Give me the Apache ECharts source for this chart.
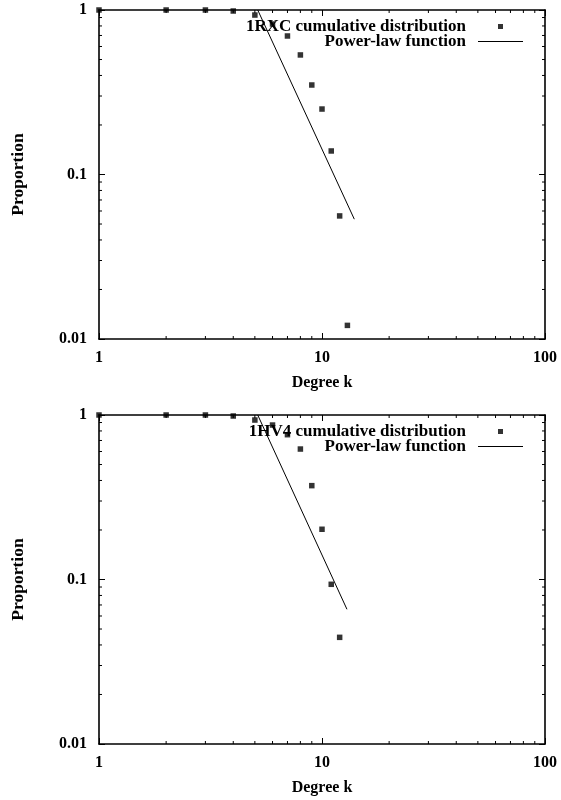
<!DOCTYPE html>
<html>
<head>
<meta charset="utf-8">
<script src="https://cdn.jsdelivr.net/npm/echarts@6/dist/echarts.min.js"></script>
<style>
html,body{margin:0;padding:0;background:#fff;}
#chart{width:561px;height:800px;}
</style>
</head>
<body>
<div id="chart"></div>
<script>
// ---- data ----
var degreesTop = [1, 2, 3, 4, 5, 6, 7, 8, 9, 10, 11, 12, 13];
var proportionTop = [1, 1, 1, 0.986, 0.932, 0.822, 0.695, 0.533, 0.350, 0.250, 0.139, 0.056, 0.0121];
var powerLawTopK = [5.15, 13.96];
var powerLawTopP = [1, 0.0535];

var degreesBottom = [1, 2, 3, 4, 5, 6, 7, 8, 9, 10, 11, 12];
var proportionBottom = [1, 1, 1, 0.986, 0.932, 0.869, 0.759, 0.621, 0.372, 0.202, 0.0935, 0.0445];
var powerLawBottomK = [5.15, 12.94];
var powerLawBottomP = [1, 0.0659];

var nameTop = '1RXC cumulative distribution';
var nameBottom = '1HV4 cumulative distribution';
var nameFit = 'Power-law function';

var xMin = 1, xMax = 100, yMin = 0.01, yMax = 1;
var xMinorTicks = [2, 3, 4, 5, 6, 7, 8, 9, 20, 30, 40, 50, 60, 70, 80, 90];
var yMinorTicks = [0.02, 0.03, 0.04, 0.05, 0.06, 0.07, 0.08, 0.09, 0.2, 0.3, 0.4, 0.5, 0.6, 0.7, 0.8, 0.9];

// ---- helpers ----
var FONT = 'Liberation Serif';
function zip(a, b) { return a.map(function (v, i) { return [v, b[i]]; }); }

var lineStyle = { color: '#000', width: 1.6 };
var tickLabel = { color: '#000', fontFamily: FONT, fontWeight: 'bold', fontSize: 16 };

function xAxisPair(gridIndex) {
  return [
    { type: 'log', logBase: 10, min: xMin, max: xMax, gridIndex: gridIndex, position: 'bottom',
      axisLine: { show: true, lineStyle: lineStyle },
      axisTick: { show: true, inside: true, length: 6, lineStyle: { color: '#000', width: 1 } },
      axisLabel: Object.assign({ margin: 11 }, tickLabel),
      splitLine: { show: false },
      name: 'Degree k', nameLocation: 'middle', nameGap: 36,
      nameTextStyle: { color: '#000', fontFamily: FONT, fontWeight: 'bold', fontSize: 16 } },
    { type: 'log', logBase: 10, min: xMin, max: xMax, gridIndex: gridIndex, position: 'top',
      axisLine: { show: true, lineStyle: lineStyle },
      axisTick: { show: true, inside: true, length: 6, lineStyle: { color: '#000', width: 1 } },
      axisLabel: { show: false }, splitLine: { show: false } }
  ];
}
function yAxisPair(gridIndex) {
  return [
    { type: 'log', logBase: 10, min: yMin, max: yMax, gridIndex: gridIndex, position: 'left',
      axisLine: { show: true, lineStyle: lineStyle },
      axisTick: { show: true, inside: true, length: 6, lineStyle: { color: '#000', width: 1 } },
      axisLabel: Object.assign({ margin: 12 }, tickLabel),
      splitLine: { show: false },
      name: 'Proportion', nameLocation: 'middle', nameGap: 72,
      nameTextStyle: { color: '#000', fontFamily: FONT, fontWeight: 'bold', fontSize: 17.5 } },
    { type: 'log', logBase: 10, min: yMin, max: yMax, gridIndex: gridIndex, position: 'right',
      axisLine: { show: true, lineStyle: lineStyle },
      axisTick: { show: true, inside: true, length: 6, lineStyle: { color: '#000', width: 1 } },
      axisLabel: { show: false }, splitLine: { show: false } }
  ];
}

function minorTickSeries(xi, yi) {
  var xData = xMinorTicks.map(function (k) { return [k, yMin]; });
  var yData = yMinorTicks.map(function (p) { return [xMin, p]; });
  return [
    { type: 'custom', xAxisIndex: xi, yAxisIndex: yi, silent: true, clip: false, z: 3,
      data: xData, encode: { x: 0, y: 1 },
      renderItem: function (params, api) {
        var b = api.coord([api.value(0), yMin]);
        var t = api.coord([api.value(0), yMax]);
        return { type: 'group', children: [
          { type: 'line', shape: { x1: b[0], y1: b[1], x2: b[0], y2: b[1] - 3 }, style: { stroke: '#000', lineWidth: 1 } },
          { type: 'line', shape: { x1: t[0], y1: t[1], x2: t[0], y2: t[1] + 3 }, style: { stroke: '#000', lineWidth: 1 } }
        ] };
      } },
    { type: 'custom', xAxisIndex: xi, yAxisIndex: yi, silent: true, clip: false, z: 3,
      data: yData, encode: { x: 0, y: 1 },
      renderItem: function (params, api) {
        var l = api.coord([xMin, api.value(1)]);
        var r = api.coord([xMax, api.value(1)]);
        return { type: 'group', children: [
          { type: 'line', shape: { x1: l[0], y1: l[1], x2: l[0] + 3, y2: l[1] }, style: { stroke: '#000', lineWidth: 1 } },
          { type: 'line', shape: { x1: r[0], y1: r[1], x2: r[0] - 3, y2: r[1] }, style: { stroke: '#000', lineWidth: 1 } }
        ] };
      } }
  ];
}

function legendPair(topOffset, scatterName) {
  var common = {
    orient: 'vertical', align: 'right', padding: 0, itemGap: 0,
    selectedMode: false,
    textStyle: { color: '#000', fontFamily: FONT, fontWeight: 'bold', fontSize: 17, padding: [0, 7, 0, 0] }
  };
  return [
    Object.assign({}, common, { top: topOffset, right: 58, itemWidth: 45, itemHeight: 5,
      data: [{ name: scatterName, icon: 'path://M0,0H10V10H0Z' }] }),
    Object.assign({}, common, { top: topOffset + 15, right: 38, itemWidth: 45, itemHeight: 14,
      data: [{ name: nameFit, icon: 'path://M0,0H45V1H0Z' }] })
  ];
}

var option = {
  backgroundColor: '#fff',
  animation: false,
  grid: [
    { left: 99, top: 10, width: 446, height: 329 },
    { left: 99, top: 415, width: 446, height: 329 }
  ],
  xAxis: xAxisPair(0).concat(xAxisPair(1)),
  yAxis: yAxisPair(0).concat(yAxisPair(1)),
  legend: legendPair(18, nameTop).concat(legendPair(423, nameBottom)),
  series: [
    { name: nameTop, type: 'scatter', xAxisIndex: 0, yAxisIndex: 0,
      symbol: 'rect', symbolSize: 5.5, itemStyle: { color: '#000' },
      data: zip(degreesTop, proportionTop) },
    { name: nameFit, type: 'line', xAxisIndex: 0, yAxisIndex: 0,
      symbol: 'none', lineStyle: { color: '#000', width: 1 }, itemStyle: { color: '#000' },
      data: zip(powerLawTopK, powerLawTopP) },
    { name: nameBottom, type: 'scatter', xAxisIndex: 2, yAxisIndex: 2,
      symbol: 'rect', symbolSize: 5.5, itemStyle: { color: '#000' },
      data: zip(degreesBottom, proportionBottom) },
    { name: nameFit, type: 'line', xAxisIndex: 2, yAxisIndex: 2,
      symbol: 'none', lineStyle: { color: '#000', width: 1 }, itemStyle: { color: '#000' },
      data: zip(powerLawBottomK, powerLawBottomP) }
  ].concat(minorTickSeries(0, 0)).concat(minorTickSeries(2, 2))
};

var chart = echarts.init(document.getElementById('chart'), null, { renderer: 'canvas' });
chart.setOption(option);
</script>
</body>
</html>
